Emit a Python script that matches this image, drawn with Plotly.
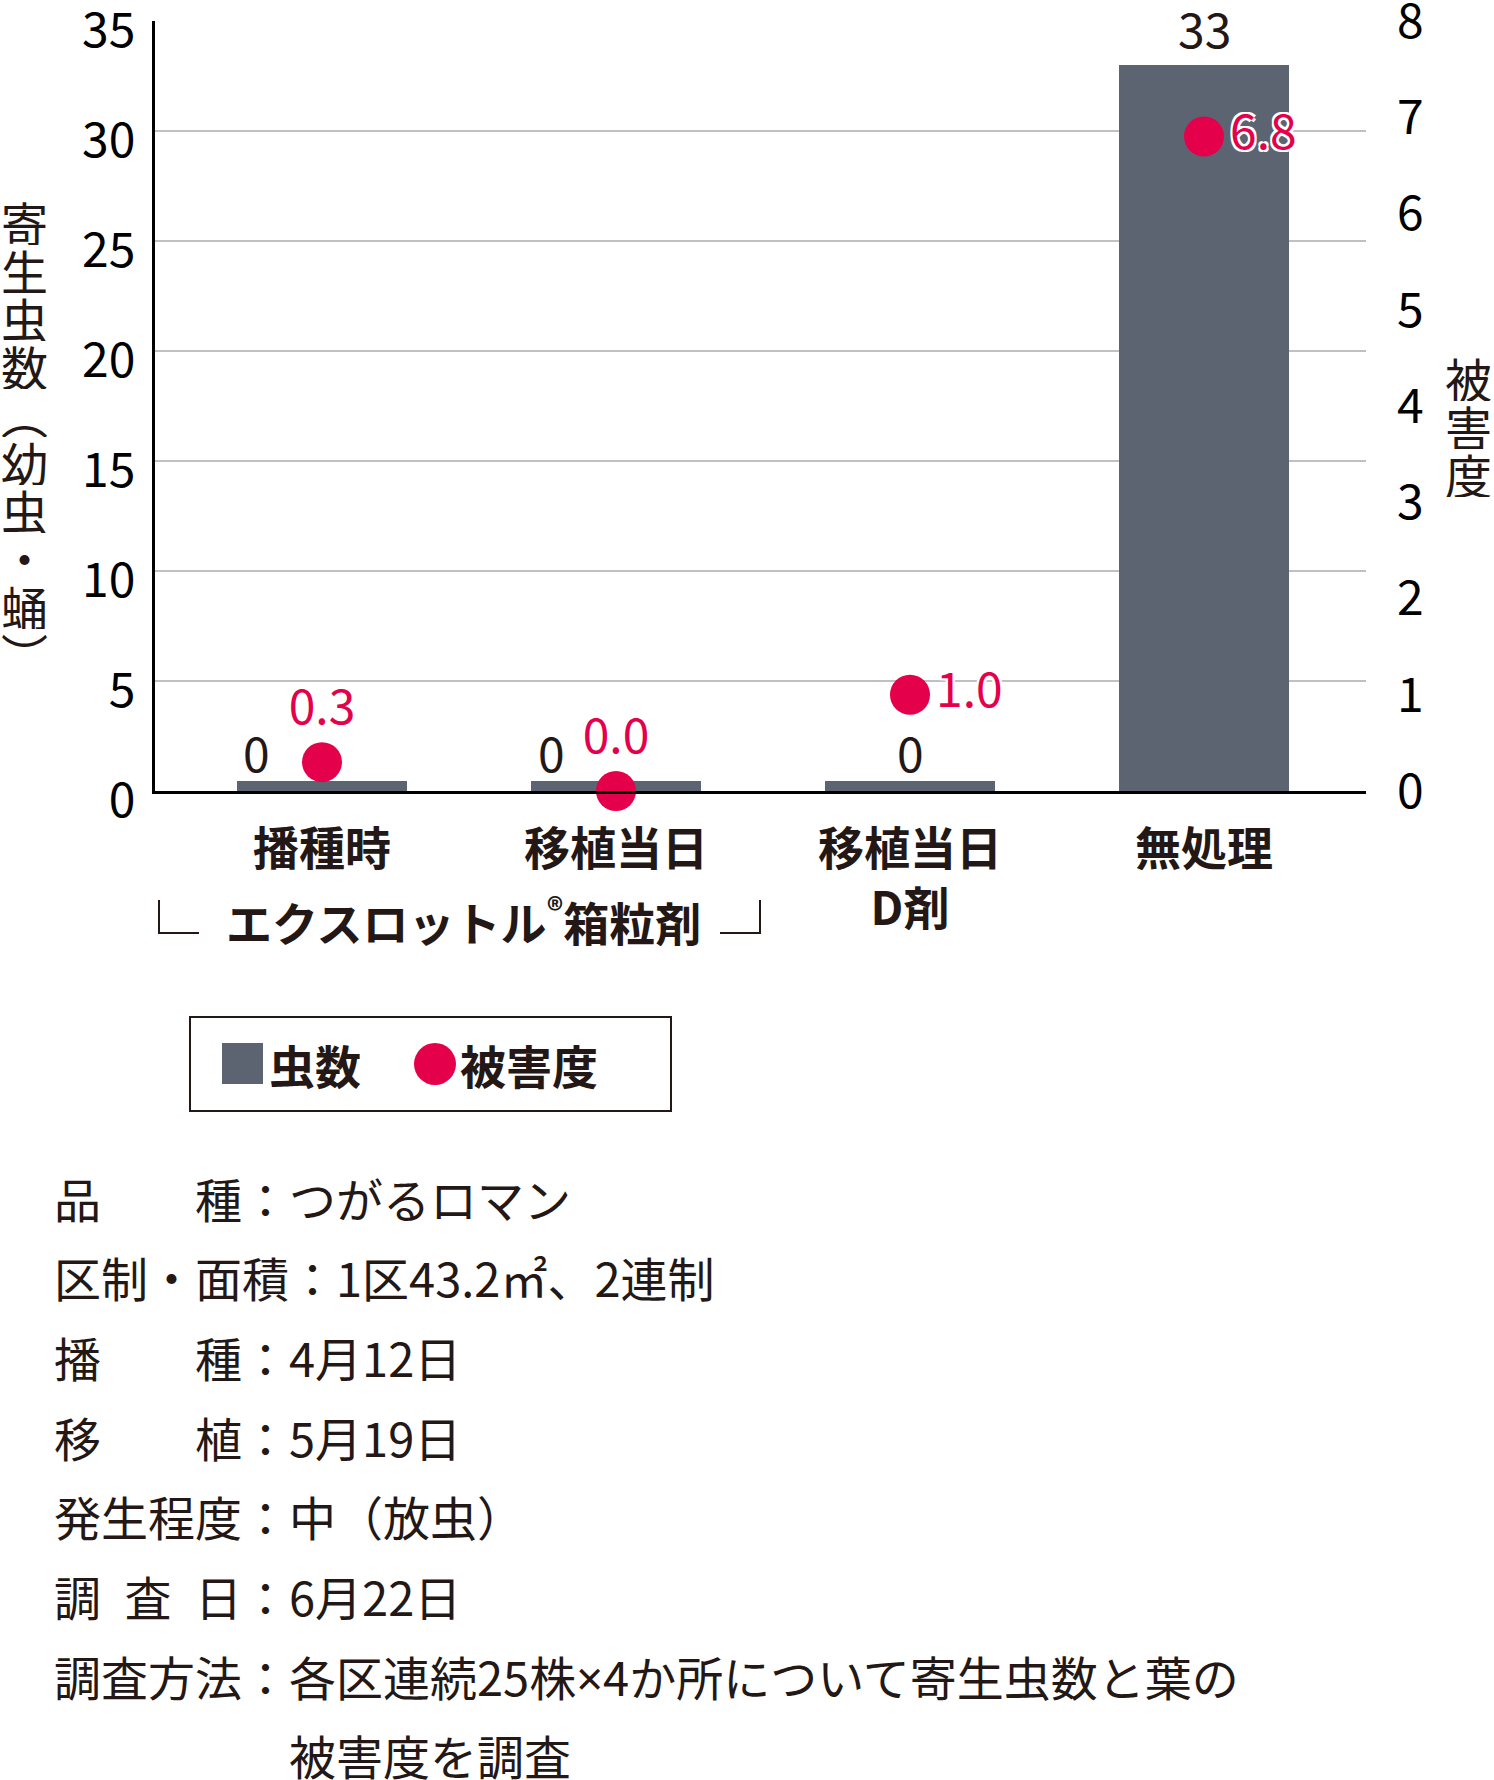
import plotly.graph_objects as go

# data
categories = ["播種時", "移植当日", "移植当日<br>D剤", "無処理"]
insects = [0, 0, 0, 33]
damage = [0.3, 0.0, 1.0, 6.8]
left_ticks = [0, 5, 10, 15, 20, 25, 30, 35]
right_ticks = [0, 1, 2, 3, 4, 5, 6, 7, 8]
group_label = "エクスロットル<sup>®</sup>箱粒剤"
left_title = "寄生虫数︵幼虫・蛹︶"
right_title = "被害度"
legend_labels = ["虫数", "被害度"]
note_lines = [
    "品　　種：つがるロマン",
    "区制・面積：1区43.2㎡、2連制",
    "播　　種：4月12日",
    "移　　植：5月19日",
    "発生程度：中（放虫）",
    "調\u2002査\u2002日：6月22日",
    "調査方法：各区連続25株<span style='font-family:Noto Sans'>×</span>4か所について寄生虫数と葉の",
    "　　　　　被害度を調査",
]

FONT = "Noto Sans CJK JP"
INK = "#231815"
BAR = "#5d6471"
RED = "#e4004b"
W, H = 1494, 1780
L, R, T, B = 155, 1366, 21, 791


def px(x):
    return (x - L) / (R - L)


def py(y):
    return (B - y) / (B - T)


fig = go.Figure()

# zero counts still get a thin stub like the original
fig.add_trace(go.Bar(
    x=categories, y=[max(v, 0.45) for v in insects], width=0.575,
    marker=dict(color=BAR, line_width=0), hoverinfo="skip",
))

fig.add_trace(go.Scatter(
    x=categories, y=damage, yaxis="y2", mode="markers+text",
    marker=dict(size=40, color=RED),
    text=[f"{v:.1f}" for v in damage],
    textposition=["top center", "top center", "middle right", "middle right"],
    textfont=dict(family=FONT, size=48, color=RED,
                  shadow="2px 2px 0 white, -2px -2px 0 white, 2px -2px 0 white, -2px 2px 0 white"),
    cliponaxis=False, hoverinfo="skip",
))

# bar value labels
bar_label_dx = [-65, -65, 0, 0]
for cat, v, dx in zip(categories, insects, bar_label_dx):
    fig.add_annotation(
        x=cat, y=max(v, 0.45), yref="y", text=str(v), showarrow=False,
        yanchor="bottom", xshift=dx, yshift=-6 if v == 0 else 2,
        bgcolor="white" if v else "rgba(0,0,0,0)", borderpad=0,
        font=dict(family=FONT, size=48, color=INK),
    )

# vertical axis titles
for i, ch in enumerate(left_title):
    fig.add_annotation(
        x=px(24), y=py(221 + i * 48), xref="paper", yref="paper", text=ch,
        showarrow=False, xanchor="center", yanchor="middle", height=48,
        font=dict(family=FONT, size=47, color=INK),
    )
for i, ch in enumerate(right_title):
    fig.add_annotation(
        x=px(1494), y=py(377 + i * 48), xref="paper", yref="paper", text=ch,
        showarrow=False, xanchor="right", yanchor="middle", height=48,
        font=dict(family=FONT, size=47, color=INK),
    )

# group bracket under the first two categories
fig.add_annotation(
    x=px(463), y=py(919), xref="paper", yref="paper", text=group_label,
    showarrow=False, xanchor="center", yanchor="middle",
    font=dict(family=FONT, size=46, color=INK, weight="bold"),
)
fig.add_shape(type="path", xref="paper", yref="paper",
              path=f"M {px(159)},{py(900)} L {px(159)},{py(933)} L {px(199)},{py(933)}",
              line=dict(color=INK, width=2))
fig.add_shape(type="path", xref="paper", yref="paper",
              path=f"M {px(720)},{py(933)} L {px(760)},{py(933)} L {px(760)},{py(900)}",
              line=dict(color=INK, width=2))

# legend box
fig.add_shape(type="rect", xref="paper", yref="paper",
              x0=px(190), x1=px(671), y0=py(1017), y1=py(1111),
              line=dict(color=INK, width=2), fillcolor="rgba(0,0,0,0)")
fig.add_shape(type="rect", xref="paper", yref="paper",
              x0=px(222), x1=px(263), y0=py(1043), y1=py(1084),
              line_width=0, fillcolor=BAR)
fig.add_shape(type="circle", xref="paper", yref="paper",
              x0=px(414), x1=px(456), y0=py(1043), y1=py(1085),
              line_width=0, fillcolor=RED)
for x0, lab in zip([267, 458], legend_labels):
    fig.add_annotation(
        x=px(x0), y=py(1064), xref="paper", yref="paper", text=lab,
        showarrow=False, xanchor="left", yanchor="middle",
        font=dict(family=FONT, size=46, color=INK, weight="bold"),
    )

# trial notes
for i, line in enumerate(note_lines):
    fig.add_annotation(
        x=px(52), y=py(1197 + i * 79.7), xref="paper", yref="paper", text=line,
        showarrow=False, xanchor="left", yanchor="middle",
        font=dict(family=FONT, size=47, color=INK),
    )

fig.update_layout(
    width=W, height=H,
    margin=dict(l=L, r=W - R, t=T, b=H - B),
    paper_bgcolor="white", plot_bgcolor="white",
    showlegend=False, bargap=0,
    font=dict(family=FONT, color=INK),
    xaxis=dict(
        range=[-0.568, 3.551], showline=True, linecolor="black", linewidth=3,
        ticks="", showgrid=False, zeroline=False, ticklabelstandoff=16,
        automargin=False,
        tickfont=dict(family=FONT, size=46, color=INK, weight="bold"),
    ),
    yaxis=dict(
        range=[0, 35], tickvals=left_ticks, showgrid=True, gridcolor="#c0c0c0",
        gridwidth=2, showline=True, linecolor="black", linewidth=3, zeroline=False,
        ticks="", ticklabelstandoff=7, ticklabelshift=9, ticklabeloverflow="allow",
        automargin=False,
        tickfont=dict(family=FONT, size=48, color="black"),
    ),
    yaxis2=dict(
        range=[0, 8], tickvals=right_ticks, overlaying="y", side="right",
        showgrid=False, showline=False, zeroline=False, ticks="",
        ticklabelstandoff=30, ticklabeloverflow="allow", automargin=False,
        tickfont=dict(family=FONT, size=48, color="black"),
    ),
)

# the page body has a default 8px margin; drop it so the figure sits at the corner
fig.write_html("out.html", config={"displayModeBar": False},
               post_script="document.body.style.margin='0';")
